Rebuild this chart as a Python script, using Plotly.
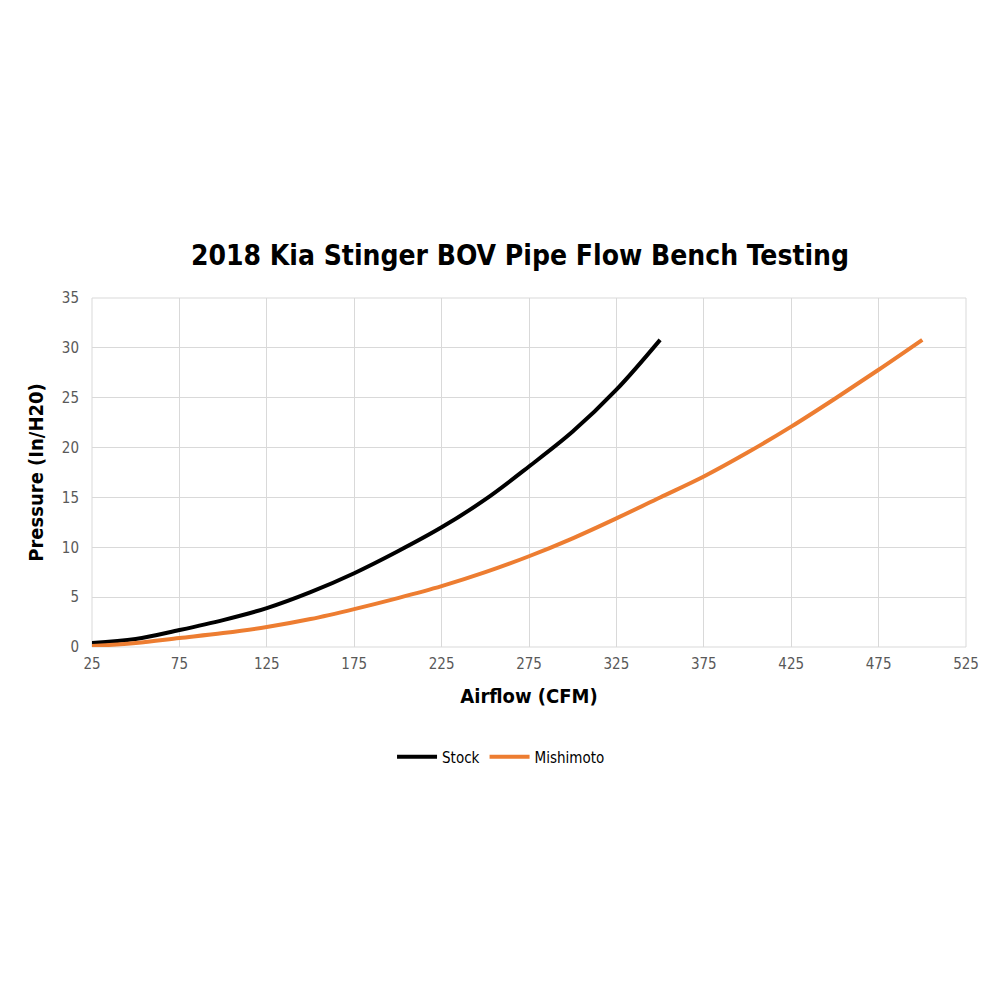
import plotly.graph_objects as go

stock_x = [25, 50, 75, 100, 125, 150, 175, 200, 225, 250, 275, 300, 325, 350]
stock_y = [0.4, 0.8, 1.7, 2.7, 3.9, 5.5, 7.4, 9.6, 12.0, 14.8, 18.1, 21.6, 25.8, 30.8]
mishi_x = [25, 50, 75, 100, 125, 150, 175, 200, 225, 250, 275, 300, 325, 350,
           375, 400, 425, 450, 475, 500]
mishi_y = [0.1, 0.4, 0.9, 1.4, 2.0, 2.8, 3.8, 4.9, 6.1, 7.5, 9.1, 10.9, 12.9, 15.0,
           17.1, 19.5, 22.1, 24.9, 27.8, 30.8]
x_ticks = [25, 75, 125, 175, 225, 275, 325, 375, 425, 475, 525]
y_ticks = [0, 5, 10, 15, 20, 25, 30, 35]

FONT = "DejaVu Sans Condensed, Liberation Sans Narrow, Roboto, Arial"

fig = go.Figure()
fig.add_trace(go.Scatter(x=stock_x, y=stock_y, mode="lines", name="Stock",
                         line=dict(color="#000000", width=4, shape="spline")))
fig.add_trace(go.Scatter(x=mishi_x, y=mishi_y, mode="lines", name="Mishimoto",
                         line=dict(color="#ed7d31", width=4, shape="spline")))

fig.update_layout(
    width=1000, height=1000,
    paper_bgcolor="white", plot_bgcolor="white",
    margin=dict(l=84, r=42, t=290, b=361),
    title=dict(text="<b>2018 Kia Stinger BOV Pipe Flow Bench Testing</b>",
               x=0.512, xanchor="center", y=0.753, yanchor="middle",
               font=dict(family=FONT, size=28, color="#000000")),
    xaxis=dict(range=[25, 525], tickvals=x_ticks, showgrid=True,
               gridcolor="#d9d9d9", gridwidth=1, zeroline=False,
               showline=False, ticks="", automargin=False,
               ticklabelstandoff=6,
               tickfont=dict(family=FONT, size=15, color="#595959"),
               title=dict(text="<b>Airflow (CFM)</b>", standoff=16,
                          font=dict(family=FONT, size=20, color="#000000"))),
    yaxis=dict(range=[0, 35], tickvals=y_ticks, showgrid=True,
               gridcolor="#d9d9d9", gridwidth=1, zeroline=False,
               showline=False, ticks="", automargin=False,
               ticklabelstandoff=12,
               tickfont=dict(family=FONT, size=15, color="#595959"),
               title=dict(text="<b>Pressure (In/H20)</b>", standoff=12,
                          font=dict(family=FONT, size=20, color="#000000"))),
    legend=dict(orientation="h", x=0.468, xanchor="center", y=-0.315, yanchor="middle",
                font=dict(family=FONT, size=15, color="#000000"),
                itemwidth=40),
    showlegend=True,
)
fig.add_shape(type="rect", xref="paper", yref="paper", x0=0, x1=1, y0=0, y1=1,
              line=dict(color="#d9d9d9", width=1), layer="below")

fig.write_html("out.html")
